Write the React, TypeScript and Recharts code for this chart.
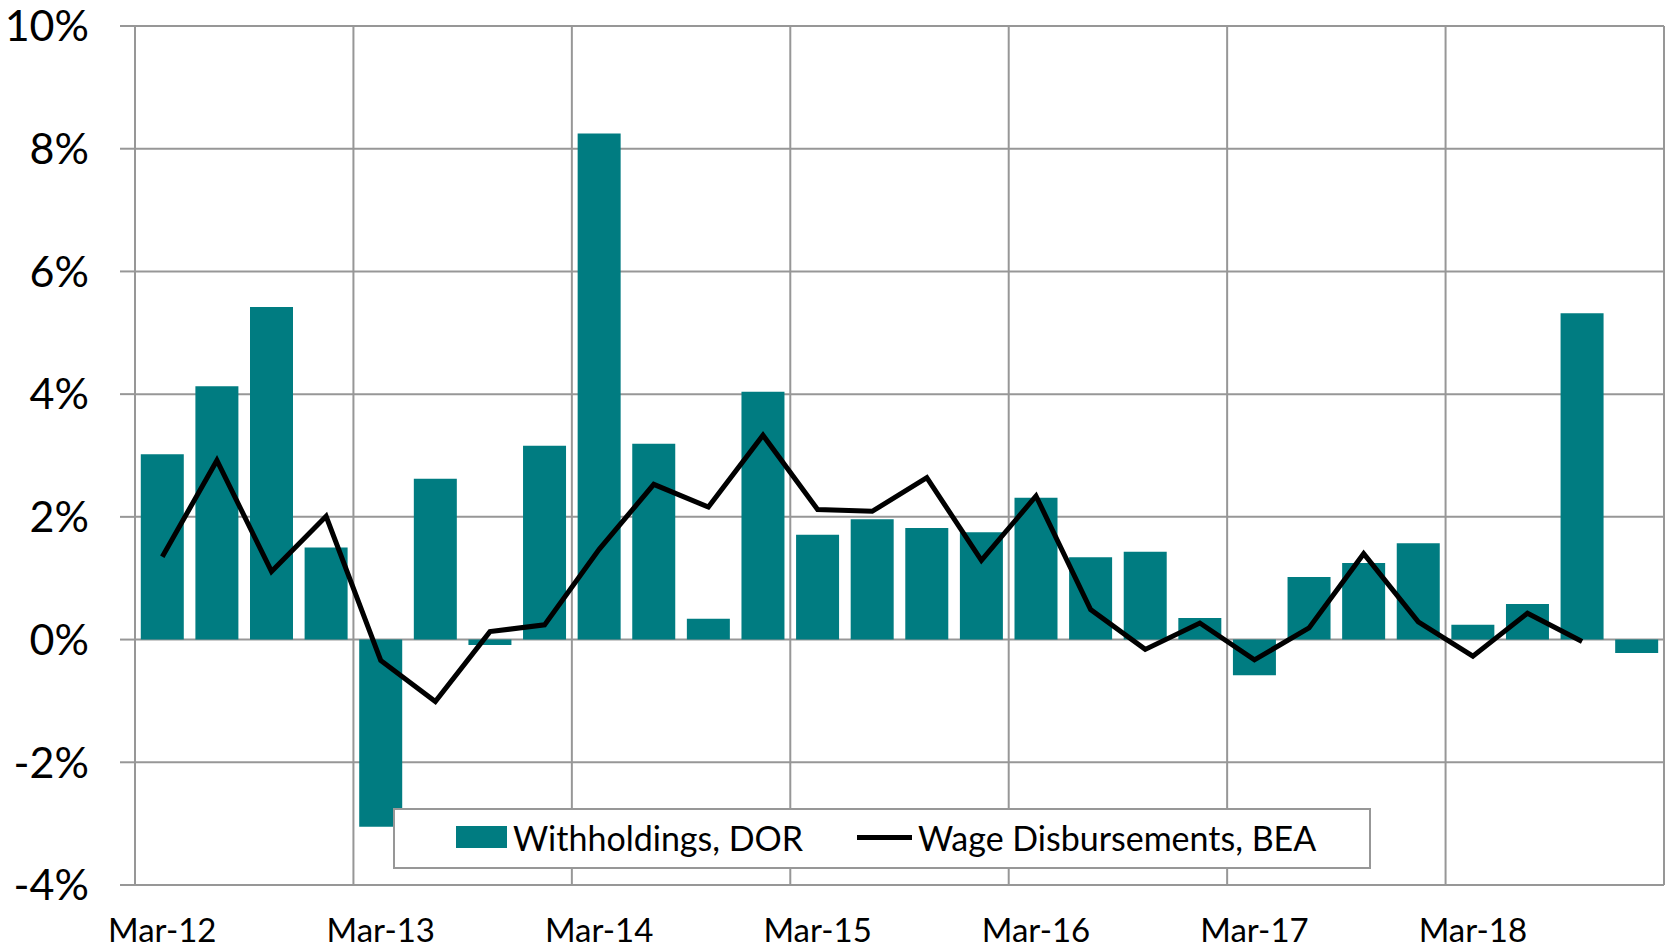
import * as React from 'react';
import {
  ComposedChart,
  Bar,
  Line,
  XAxis,
  YAxis,
  CartesianGrid,
} from 'recharts';

const QUARTERS = [
  'Mar-12', 'Jun-12', 'Sep-12', 'Dec-12',
  'Mar-13', 'Jun-13', 'Sep-13', 'Dec-13',
  'Mar-14', 'Jun-14', 'Sep-14', 'Dec-14',
  'Mar-15', 'Jun-15', 'Sep-15', 'Dec-15',
  'Mar-16', 'Jun-16', 'Sep-16', 'Dec-16',
  'Mar-17', 'Jun-17', 'Sep-17', 'Dec-17',
  'Mar-18', 'Jun-18', 'Sep-18', 'Dec-18',
];

// quarterly growth, %
const WITHHOLDINGS = [
  3.02, 4.13, 5.42, 1.5, -3.05, 2.62, -0.09, 3.16, 8.25, 3.19, 0.34, 4.04, 1.71, 1.96,
  1.82, 1.75, 2.31, 1.34, 1.43, 0.35, -0.58, 1.02, 1.25, 1.57, 0.24, 0.58, 5.32, -0.22,
];

const WAGES: (number | null)[] = [
  1.35, 2.92, 1.11, 2.01, -0.34, -1.01, 0.13, 0.24, 1.47, 2.53, 2.16, 3.33, 2.12, 2.09,
  2.64, 1.29, 2.34, 0.49, -0.16, 0.27, -0.33, 0.19, 1.4, 0.29, -0.27, 0.43, -0.03, null,
];

const Y_TICKS = [-4, -2, 0, 2, 4, 6, 8, 10];

const TEAL = '#007C81';
const GRID = '#979797';
const FONT = 'Lato, "Noto Sans", sans-serif';

const data = QUARTERS.map((q, i) => ({
  quarter: q,
  withholdings: WITHHOLDINGS[i],
  wages: WAGES[i],
}));

// legend sits inside the plot, over the gridlines (like the excel original)
function LegendBox() {
  return (
    <div
      style={{
        position: 'absolute',
        left: 393,
        top: 808,
        boxSizing: 'border-box',
        width: 978,
        height: 61,
        background: '#fff',
        border: `2px solid ${GRID}`,
        display: 'flex',
        alignItems: 'center',
        fontFamily: FONT,
        fontSize: 34,
        color: '#000',
        paddingLeft: 61,
        paddingBottom: 3,
        whiteSpace: 'nowrap',
      }}
    >
      <span style={{ width: 51, height: 22, background: TEAL, display: 'inline-block' }} />
      <span style={{ marginLeft: 6 }}>Withholdings, DOR</span>
      <span
        style={{
          width: 55,
          height: 5,
          background: '#000',
          display: 'inline-block',
          marginLeft: 54,
        }}
      />
      <span style={{ marginLeft: 6 }}>Wage Disbursements, BEA</span>
    </div>
  );
}

export default function App() {
  const every = 4;
  return (
    <div style={{ position: 'absolute', left: 0, top: 0, width: 1667, height: 950, background: '#fff' }}>
      <ComposedChart
        width={1667}
        height={950}
        data={data}
        margin={{ top: 26, right: 3, bottom: 0, left: 0 }}
        barCategoryGap="10.6%"
      >
        <CartesianGrid
          stroke={GRID}
          strokeWidth={2}
          verticalCoordinatesGenerator={({ offset }: any) => {
            const n = QUARTERS.length / every;
            return Array.from({ length: n + 1 }, (_, i) => offset.left + (i * offset.width) / n);
          }}
        />
        <XAxis
          dataKey="quarter"
          interval={every - 1}
          tickLine={false}
          axisLine={false}
          height={65}
          tickMargin={28}
          tick={{ fontFamily: FONT, fontSize: 33, fill: '#000' }}
        />
        <YAxis
          domain={[-4, 10]}
          ticks={Y_TICKS}
          tickFormatter={(v) => `${v}%`}
          width={135}
          tickSize={15}
          tickMargin={31}
          axisLine={{ stroke: GRID, strokeWidth: 2 }}
          tickLine={{ stroke: GRID, strokeWidth: 2 }}
          tick={{ fontFamily: FONT, fontSize: 43, fill: '#000' }}
          allowDataOverflow
        />
        <Bar
          dataKey="withholdings"
          name="Withholdings, DOR"
          fill={TEAL}
          isAnimationActive={false}
        />
        <Line
          dataKey="wages"
          name="Wage Disbursements, BEA"
          stroke="#000"
          strokeWidth={5}
          dot={false}
          activeDot={false}
          type="linear"
          isAnimationActive={false}
        />
      </ComposedChart>
      <LegendBox />
    </div>
  );
}
